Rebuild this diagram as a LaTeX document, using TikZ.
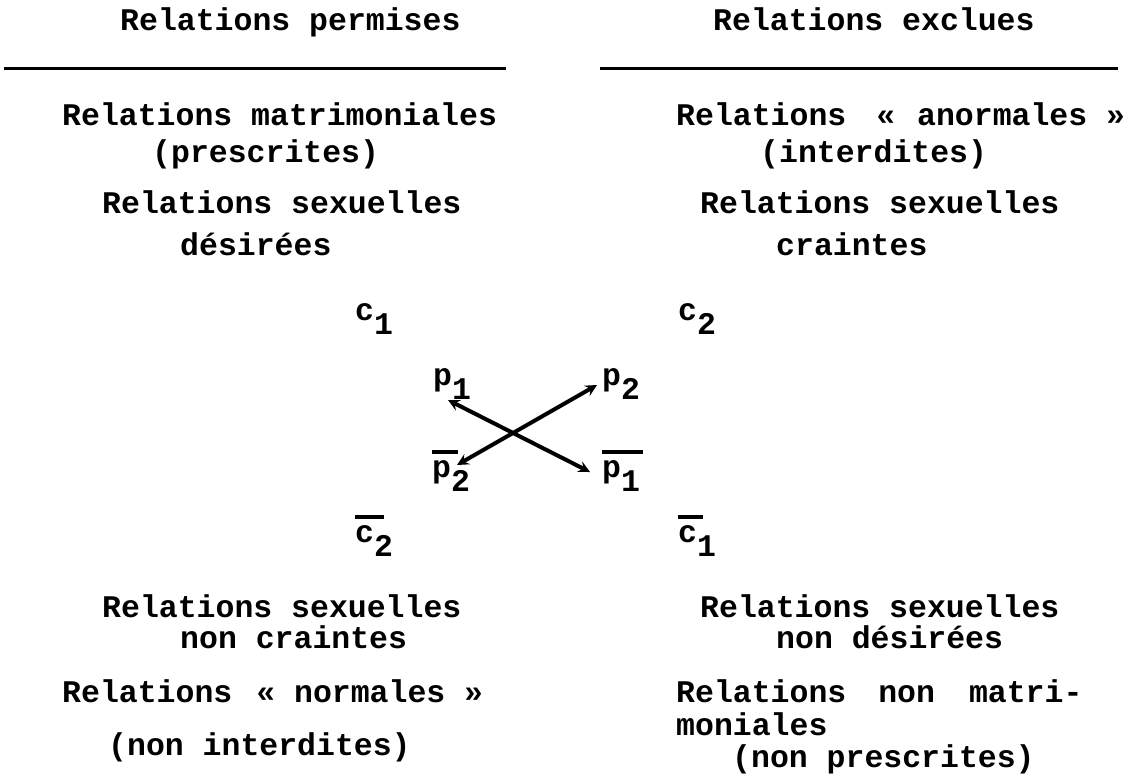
\documentclass[tikz,border=0pt]{standalone}
\usepackage{fontspec}
\setmonofont{Liberation Mono}
\usepackage{tikz}

\newcommand{\ind}[1]{\raisebox{-0.45em}{#1}}
\newcommand{\barre}[1]{\makebox[0pt][l]{\raisebox{0.74em}{\rule{#1}{0.11em}}}}

\begin{document}
\begin{tikzpicture}[x=1pt, y=-1pt,
    txt/.style={anchor=base west, inner sep=0pt, font=\ttfamily\bfseries\fontsize{31.5}{38}\selectfont},
    fleche/.style={<->, >=stealth, line width=4pt}]
    \useasboundingbox (0,0) rectangle (1129,780);
    \node[txt] (perm) at (120,30) {Relations permises};
    \node[txt] (excl) at (713,30) {Relations exclues};
    \draw[line width=3pt] (4,68) -- (506,68);
    \draw[line width=3pt] (600,68) -- (1118,68);
    \node[txt] (matri) at (62,125) {Relations matrimoniales};
    \node[txt] (presc) at (152,162) {(prescrites)};
    \node[txt] (sexa) at (102,213) {Relations sexuelles};
    \node[txt] (desir) at (180,255) {désirées};
    \node[txt] (anorm) at (676,125) {Relations\hspace{30pt}«\hspace{22pt}anormales »};
    \node[txt] (inter) at (760,162) {(interdites)};
    \node[txt] (sexb) at (700,213) {Relations sexuelles};
    \node[txt] (crain) at (776,255) {craintes};
    \node[txt] (c1) at (355,320) {c\ind{1}};
    \node[txt] (c2) at (678,320) {c\ind{2}};
    \node[txt] (p1) at (433,385) {p\ind{1}};
    \node[txt] (p2) at (602,385) {p\ind{2}};
    \node[txt] (np2) at (432,477) {\barre{26pt}p\ind{2}};
    \node[txt] (np1) at (602,477) {\barre{41pt}p\ind{1}};
    \node[txt] (nc2) at (355,542) {\barre{29pt}c\ind{2}};
    \node[txt] (nc1) at (678,542) {\barre{25pt}c\ind{1}};
    \coordinate (e1) at (448,400);
    \coordinate (e2) at (590,472);
    \coordinate (e3) at (457,465);
    \coordinate (e4) at (597,385);
    \draw[fleche] (e1) -- (e2);
    \draw[fleche] (e3) -- (e4);
    \node[txt] (sexc) at (102,617) {Relations sexuelles};
    \node[txt] (ncrain) at (180,648) {non craintes};
    \node[txt] (norm) at (62,702) {Relations\hspace{24pt}« normales »};
    \node[txt] (ninter) at (108,755) {(non interdites)};
    \node[txt] (sexd) at (700,617) {Relations sexuelles};
    \node[txt] (ndesir) at (776,648) {non désirées};
    \node[txt] (nmatri) at (676,702) {Relations\hspace{32pt}non\hspace{34pt}matri-};
    \node[txt] (monia) at (676,735) {moniales};
    \node[txt] (npresc) at (732,767) {(non prescrites)};
\end{tikzpicture}
\end{document}
